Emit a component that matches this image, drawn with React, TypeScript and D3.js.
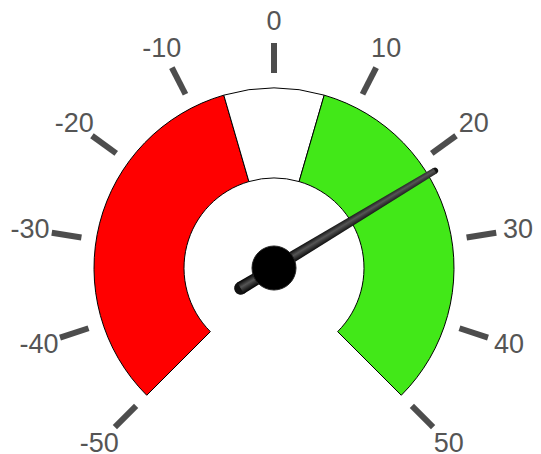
import * as d3 from "d3";

const tickValues = [-50, -40, -30, -20, -10, 0, 10, 20, 30, 40, 50];
const bandStarts = [-50, -6, 6];
const bandEnds = [-6, 6, 50];
const bandColors = ["#ff0000", "#ffffff", "#42e818"];
const needleValue = 21.8;

export default function App() {
  const width = 541;
  const height = 454;
  const cx = 274;
  const cy = 268;
  const outerR = 180;
  const innerR = 90;

  // degrees, 0 = straight up, clockwise
  const angle = d3.scaleLinear().domain([-50, 50]).range([-135, 135]);
  const rad = (v: number) => (angle(v) * Math.PI) / 180;

  const arc = d3.arc<any>().innerRadius(innerR).outerRadius(outerR);

  const polar = (v: number, r: number) => [Math.sin(rad(v)) * r, -Math.cos(rad(v)) * r];

  return (
    <svg width={width} height={height} style={{ position: "absolute", left: 0, top: 0 }}>
      <defs>
        <linearGradient id="needleGrad" x1="0" x2="1" y1="0" y2="0">
          <stop offset="0%" stopColor="#000" />
          <stop offset="45%" stopColor="#555" />
          <stop offset="100%" stopColor="#000" />
        </linearGradient>
      </defs>
      <g transform={`translate(${cx},${cy})`}>
        {bandStarts.map((s, i) => (
          <path
            key={i}
            d={arc({ startAngle: rad(s), endAngle: rad(bandEnds[i]) }) as string}
            fill={bandColors[i]}
            stroke="#000"
            strokeWidth={1}
          />
        ))}
        {tickValues.map((t) => {
          const [x1, y1] = polar(t, 195);
          const [x2, y2] = polar(t, 225);
          const [lx, ly] = polar(t, 247);
          return (
            <g key={t}>
              <line x1={x1} y1={y1} x2={x2} y2={y2} stroke="#4d4d4d" strokeWidth={6} />
              <text
                x={lx}
                y={ly}
                textAnchor="middle"
                dominantBaseline="central"
                fontFamily="Liberation Sans, Arial, sans-serif"
                fontSize={27}
                fill="#555"
              >
                {t}
              </text>
            </g>
          );
        })}
        <g transform={`rotate(${angle(needleValue)})`}>
          <circle cx={0} cy={39} r={6.5} fill="#111" />
          <circle cx={0} cy={-188} r={3.2} fill="#111" />
          <path d="M-6.5,39 L6.5,39 L3.2,-188 L-3.2,-188 Z" fill="url(#needleGrad)" />
        </g>
        <circle r={22} fill="#000" stroke="#222" strokeWidth={1} />
      </g>
    </svg>
  );
}
